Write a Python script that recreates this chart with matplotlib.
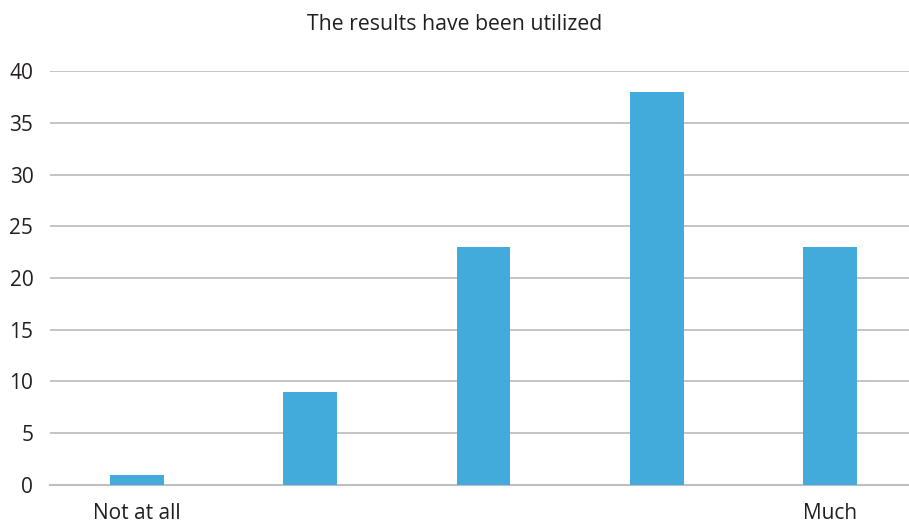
import numpy as np
import matplotlib.pyplot as plt

plt.rcParams['font.family'] = ['Open Sans', 'DejaVu Sans']

categories = ["Not at all", "", "", "", "Much"]
values = [1, 9, 23, 38, 23]

bar_color = "#42ABDC"
grid_color = "#BFBFC2"
text_color = "#231F20"

fig = plt.figure(figsize=(9.09, 5.26), dpi=100)
ax = fig.add_axes([0.055, 0.078, 0.945, 0.787])

x = np.arange(len(categories))
ax.bar(x, values, width=0.31, color=bar_color, zorder=3)

ax.set_ylim(0, 40)
ax.set_xlim(-0.503, 4.457)
ax.set_yticks(range(0, 41, 5))
ax.set_xticks(x)
ax.set_xticklabels(categories)

ax.grid(axis='y', color=grid_color, linewidth=1.3, zorder=0)
for s in ['top', 'right', 'left']:
    ax.spines[s].set_visible(False)
ax.spines['bottom'].set_color(grid_color)
ax.spines['bottom'].set_linewidth(1.5)
ax.tick_params(axis='both', length=0, colors=text_color, labelsize=15)
ax.tick_params(axis='y', pad=12)
ax.tick_params(axis='x', pad=13)

fig.suptitle("The results have been utilized", y=0.974, fontsize=15.3, color=text_color)

fig.savefig("out.png", dpi=100)
